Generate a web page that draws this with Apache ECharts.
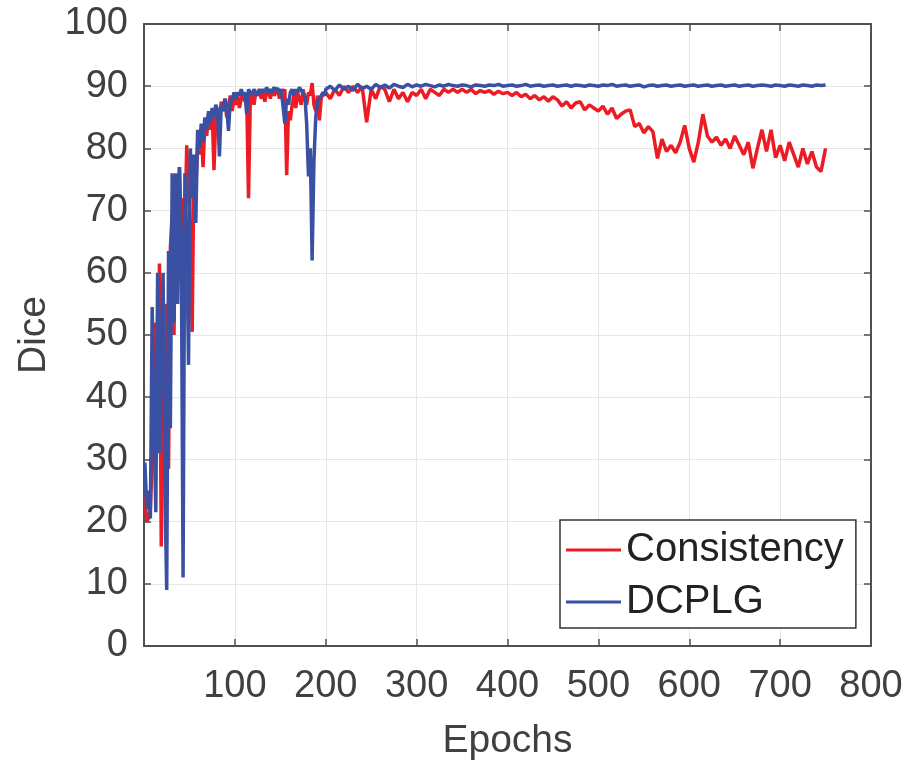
<!DOCTYPE html>
<html>
<head>
<meta charset="utf-8">
<script src="https://cdn.jsdelivr.net/npm/echarts@6/dist/echarts.min.js"></script>
<style>
  html, body { margin: 0; padding: 0; background: #fff; }
  #diceChart { width: 912px; height: 761px; }
</style>
</head>
<body>
<div id="diceChart"></div>
<script>
// epochs: every 2nd epoch up to 199, then every 5th up to 750
var epochs = [
  1,3,5,7,9,11,13,15,17,19,21,23,25,27,29,31,33,35,37,39,
  41,43,45,47,49,51,53,55,57,59,61,63,65,67,69,71,73,75,77,79,
  81,83,85,87,89,91,93,95,97,99,101,103,105,107,109,111,113,115,117,119,
  121,123,125,127,129,131,133,135,137,139,141,143,145,147,149,151,153,155,157,159,
  161,163,165,167,169,171,173,175,177,179,181,183,185,187,189,191,193,195,197,199,
  200,205,210,215,220,225,230,235,240,245,250,255,260,265,270,275,280,285,290,295,
  300,305,310,315,320,325,330,335,340,345,350,355,360,365,370,375,380,385,390,395,
  400,405,410,415,420,425,430,435,440,445,450,455,460,465,470,475,480,485,490,495,
  500,505,510,515,520,525,530,535,540,545,550,555,560,565,570,575,580,585,590,595,
  600,605,610,615,620,625,630,635,640,645,650,655,660,665,670,675,680,685,690,695,
  700,705,710,715,720,725,730,735,740,745,750
];

var consistency = [
  24,20,20.5,22,30,41,52,33,61.5,16,45,38,55,28.5,64,69.5,50,75,60,77,
  62,72,66,80.5,74,66,50.5,78,73,81,79,83,77,84,82,85.5,83,86,76.5,85,
  86.5,84,87.5,86,88,85,87,88.5,86,88,87,88.5,86.5,88,89,87.5,88.5,72,88,89,
  87,89,88.5,89.5,88,89,87.5,89,89.5,88,89.5,88.5,89,89.5,88,89.5,89,89.5,75.7,86,
  84.5,87,88.5,86.5,89,88,87,89.5,88,87,89,88.5,90.5,87,86,88.5,84.5,88,89,88.5,
  89,88,89.5,88.5,90,89,90,89,90,84.2,89.5,88,90,89.5,87.5,89.5,88,89,87.5,89,
  88.5,89.5,88,89.5,89,88.5,89.5,89,89.5,89,89.5,89,89.5,88.8,89.3,89,89.3,88.7,89.2,88.8,
  89,88.5,89,88.3,88.7,88,88.5,87.8,88.3,87.6,88.3,87.8,86.8,87.5,86.5,87.3,87.5,86.2,87,86.5,
  86,86.8,85.5,86.5,84.8,85.5,86,86.2,83.5,84,82.5,83.5,82.7,78.4,81.5,79.5,80.5,79.3,81,83.7,
  80,77.8,81,85.5,82,81,81.8,80.5,81.5,80,82,80.5,79,81,76.8,80,83,79.5,83,78.5,
  80.5,78,81,79,77,80,77.5,79.5,77,76.3,80
];

var dcplg = [
  29.5,22,25,20.5,54.5,35,21.5,60,31,50,60,25,9,63.5,35,76,52,76,55,77,
  65,11,76,66,45.2,80,72,79,68,83,80,84,81,85,83,86,84,86.5,85,87,
  86,78.7,87,86,88,86.5,82.8,88,87.5,89,88,89,88.5,89.5,88.5,89,85.5,89.5,89,88.5,
  89.5,89,88.5,89.5,89,89.5,89,89.8,89,89.5,89,89.8,89.3,89.7,89,89.5,89.8,84,88,87,
  89,89.5,88.5,89.5,89,89.8,89.3,89.5,88.5,84,75.5,80,62,78,85,87.5,87.5,88.5,89,88.5,
  89.5,90,89.3,90.2,89.5,90,89.3,90.3,89.6,90,89.5,90.3,89.8,90.2,89.7,90.3,90,89.8,90.3,89.9,
  90.2,90,90.3,90.1,89.9,90.2,90,90.3,90.1,90,90.2,90.1,89.9,90.2,90.1,90,90.2,90.1,90.3,90,
  90.1,90.2,90,90.1,90.3,90,90.1,90.2,90,90.1,90.2,90,90.1,90.2,90,90.2,90.1,90,90.2,90.1,
  90,90.2,90.1,90.3,90,90.1,90.2,90,90.1,90.2,89.9,90.1,90.2,90,90.1,90.2,90,90.1,90.2,90,
  90.1,90.2,90,90.1,90.2,90,90.1,90.2,90,90.1,90.2,90,90.1,90.2,90,90.1,90.2,90.1,90,90.2,
  90.1,90,90.2,90.1,90,90.2,90.1,90,90.2,90.1,90.2
];

var font = '"Liberation Sans", Arial, sans-serif';
var textColor = '#404040';
var boxColor = '#505050';

function pairs(xs, ys) {
  return xs.map(function (x, i) { return [x, ys[i]]; });
}

var chart = echarts.init(document.getElementById('diceChart'));
var option = {
  animation: false,
  backgroundColor: '#fff',
  grid: { left: 144, right: 41, top: 24, bottom: 115, outerBoundsMode: 'none', containLabel: false },
  legend: {
    left: 560,
    top: 520,
    orient: 'vertical',
    padding: [10, 12, 6, 6],
    itemGap: 12,
    itemWidth: 55,
    itemHeight: 3,
    icon: 'rect',
    borderColor: '#333',
    borderWidth: 1.5,
    backgroundColor: '#fff',
    textStyle: { fontFamily: font, fontSize: 40, lineHeight: 40, color: '#222' },
    data: ['Consistency', 'DCPLG']
  },
  xAxis: [{
    type: 'value', min: 0, max: 800, interval: 100,
    name: 'Epochs', nameLocation: 'middle', nameGap: 76,
    nameTextStyle: { fontFamily: font, fontSize: 39, color: textColor },
    axisLine: { onZero: false, lineStyle: { color: boxColor, width: 2 } },
    axisTick: { inside: true, length: 7, lineStyle: { color: boxColor, width: 1.5 } },
    axisLabel: {
      margin: 22, fontFamily: font, fontSize: 38, color: textColor,
      formatter: function (v) { return v === 0 ? '' : v; }
    },
    splitLine: { show: true, lineStyle: { color: '#e6e6e6', width: 1 } }
  }, {
    type: 'value', min: 0, max: 800, interval: 100, position: 'top',
    axisLine: { onZero: false, lineStyle: { color: boxColor, width: 2 } },
    axisTick: { inside: true, length: 7, lineStyle: { color: boxColor, width: 1.5 } },
    axisLabel: { show: false },
    splitLine: { show: false }
  }],
  yAxis: [{
    type: 'value', min: 0, max: 100, interval: 10,
    name: 'Dice', nameLocation: 'middle', nameGap: 86,
    nameTextStyle: { fontFamily: font, fontSize: 39, color: textColor },
    axisLine: { show: true, onZero: false, lineStyle: { color: boxColor, width: 2 } },
    axisTick: { show: true, inside: true, length: 7, lineStyle: { color: boxColor, width: 1.5 } },
    axisLabel: { margin: 16, fontFamily: font, fontSize: 38, color: textColor },
    splitLine: { show: true, lineStyle: { color: '#e6e6e6', width: 1 } }
  }, {
    type: 'value', min: 0, max: 100, interval: 10, position: 'right',
    axisLine: { show: true, onZero: false, lineStyle: { color: boxColor, width: 2 } },
    axisTick: { show: true, inside: true, length: 7, lineStyle: { color: boxColor, width: 1.5 } },
    axisLabel: { show: false },
    splitLine: { show: false }
  }],
  series: [{
    name: 'Consistency',
    type: 'line',
    data: pairs(epochs, consistency),
    symbol: 'none',
    color: '#ec1c24',
    lineStyle: { width: 3.5, color: '#ec1c24' }
  }, {
    name: 'DCPLG',
    type: 'line',
    data: pairs(epochs, dcplg),
    symbol: 'none',
    color: '#3a51a3',
    lineStyle: { width: 3.5, color: '#3a51a3' }
  }]
};
chart.setOption(option);
</script>
</body>
</html>
